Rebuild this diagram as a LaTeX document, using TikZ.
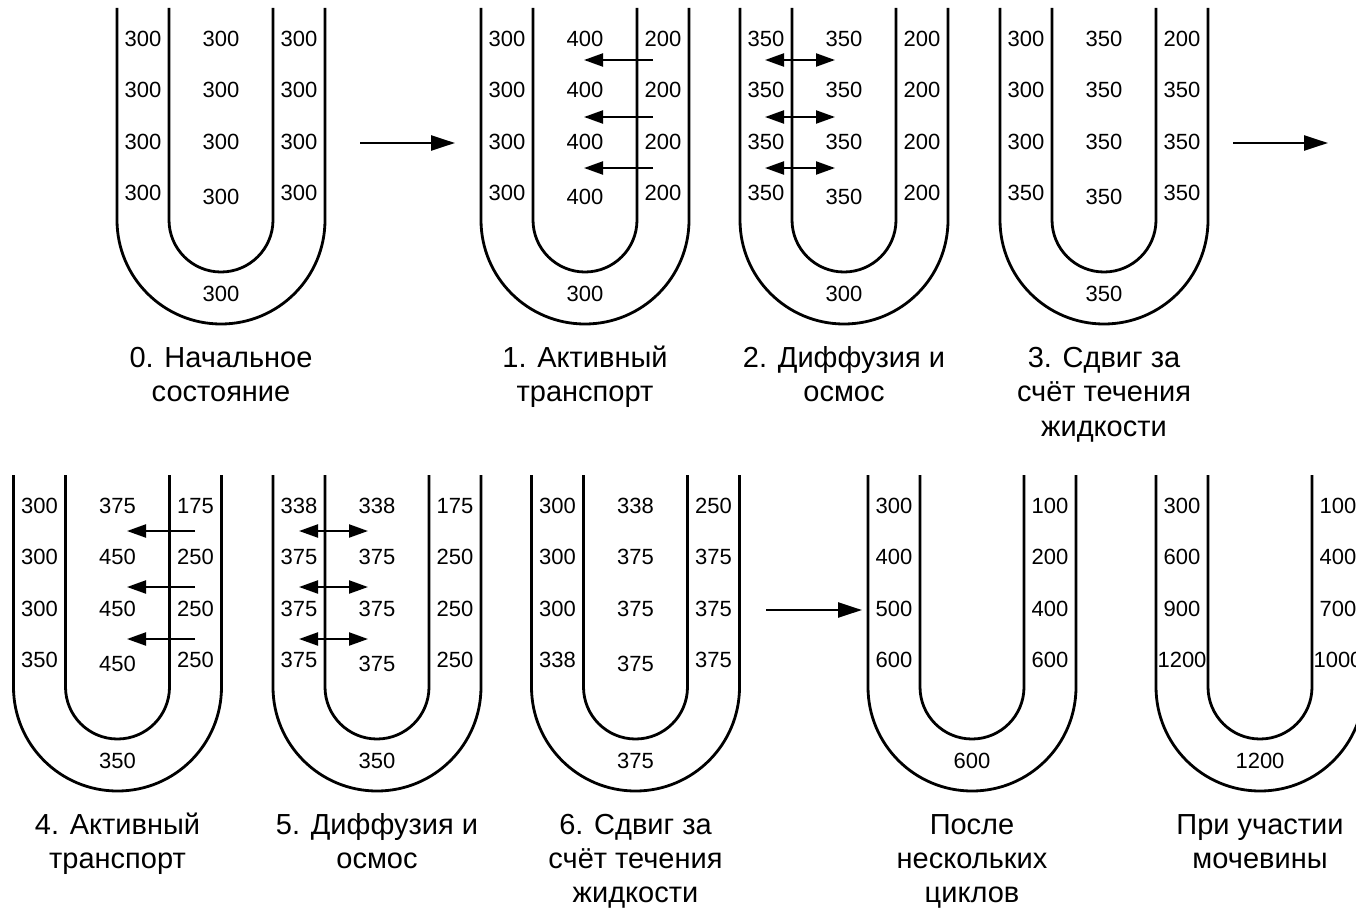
\documentclass[tikz,border=0pt]{standalone}
\usepackage{fontspec}
\setmainfont{Liberation Sans}
\usetikzlibrary{arrows.meta}
\tikzset{
  wall/.style={line width=2.8pt},
  val/.style={inner sep=0pt,font=\fontsize{22}{26}\selectfont},
  captxt/.style={inner sep=0pt,anchor=base,font=\fontsize{29}{34}\selectfont},
  pump/.style={line width=2.2pt,-{Triangle[length=19pt,width=13pt]}},
  diff/.style={line width=2.2pt,{Triangle[length=19pt,width=13pt]}-{Triangle[length=19pt,width=13pt]}},
  stage/.style={line width=2.4pt,-{Triangle[length=24pt,width=15pt]}}
}
% name, cx, yt
\newcommand\Utube[3]{%
  \draw[wall] ({#2-104},{-#3}) -- ({#2-104},{-#3-212}) arc[start angle=180,end angle=360,radius=104pt] -- ({#2+104},{-#3});
  \draw[wall] ({#2-52},{-#3}) -- ({#2-52},{-#3-212}) arc[start angle=180,end angle=360,radius=52pt] -- ({#2+52},{-#3});
}
% name, prefix, x, yt, list
\newcommand\SideCol[5]{%
  \foreach \v [count=\i] in {#5} {\node[val] (#1#2\i) at ({#3},{-#4-31-51.3*(\i-1)}) {\v};}
}
\newcommand\MidCol[4]{%
  \foreach \v [count=\i, evaluate=\i as \dy using {(\i==4)*4}] in {#4} {\node[val] (#1C\i) at ({#2},{-#3-31-51.3*(\i-1)-\dy}) {\v};}
}
% name, cx, yt, bottom value
\newcommand\BotVal[4]{\node[val] (#1B) at ({#2},{-#3-286}) {#4};}
% name, x1, x2, y, style
\newcommand\Flow[5]{%
  \coordinate (#1s) at ({#2},{-#4});
  \coordinate (#1e) at ({#3},{-#4});
  \draw[#5] (#1s) -- (#1e);
}
\begin{document}
\begin{tikzpicture}[x=1pt,y=1pt]
\fill[white] (0,0) rectangle (1356,-907);
\useasboundingbox (0,0) rectangle (1356,-907);
\clip (0,0) rectangle (1356,-907);

% ---------- top row ----------
\Utube{t0}{221}{8}
\SideCol{t0}{L}{143}{8}{300,300,300,300}
\MidCol{t0}{221}{8}{300,300,300,300}
\SideCol{t0}{R}{299}{8}{300,300,300,300}
\BotVal{t0}{221}{8}{300}

\Utube{t1}{585}{8}
\SideCol{t1}{L}{507}{8}{300,300,300,300}
\MidCol{t1}{585}{8}{400,400,400,400}
\SideCol{t1}{R}{663}{8}{200,200,200,200}
\BotVal{t1}{585}{8}{300}
\Flow{t1p1}{653}{584}{60}{pump}
\Flow{t1p2}{653}{584}{117}{pump}
\Flow{t1p3}{653}{584}{168}{pump}

\Utube{t2}{844}{8}
\SideCol{t2}{L}{766}{8}{350,350,350,350}
\MidCol{t2}{844}{8}{350,350,350,350}
\SideCol{t2}{R}{922}{8}{200,200,200,200}
\BotVal{t2}{844}{8}{300}
\Flow{t2d1}{765}{835}{60}{diff}
\Flow{t2d2}{765}{835}{117}{diff}
\Flow{t2d3}{765}{835}{168}{diff}

\Utube{t3}{1104}{8}
\SideCol{t3}{L}{1026}{8}{300,300,300,350}
\MidCol{t3}{1104}{8}{350,350,350,350}
\SideCol{t3}{R}{1182}{8}{200,350,350,350}
\BotVal{t3}{1104}{8}{350}

\Flow{s1}{360}{455}{143}{stage}
\Flow{s2}{1233}{1328}{143}{stage}

\node[captxt] (c0a) at (221,-367) {0. Начальное};
\node[captxt] (c0b) at (221,-401.5) {состояние};
\node[captxt] (c1a) at (585,-367) {1. Активный};
\node[captxt] (c1b) at (585,-401.5) {транспорт};
\node[captxt] (c2a) at (844,-367) {2. Диффузия и};
\node[captxt] (c2b) at (844,-401.5) {осмос};
\node[captxt] (c3a) at (1104,-367) {3. Сдвиг за};
\node[captxt] (c3b) at (1104,-401.5) {счёт течения};
\node[captxt] (c3c) at (1104,-436) {жидкости};

% ---------- bottom row ----------
\Utube{t4}{117.5}{475}
\SideCol{t4}{L}{39.5}{475}{300,300,300,350}
\MidCol{t4}{117.5}{475}{375,450,450,450}
\SideCol{t4}{R}{195.5}{475}{175,250,250,250}
\BotVal{t4}{117.5}{475}{350}
\Flow{t4p1}{195}{127}{531}{pump}
\Flow{t4p2}{195}{127}{587}{pump}
\Flow{t4p3}{195}{127}{639}{pump}

\Utube{t5}{377}{475}
\SideCol{t5}{L}{299}{475}{338,375,375,375}
\MidCol{t5}{377}{475}{338,375,375,375}
\SideCol{t5}{R}{455}{475}{175,250,250,250}
\BotVal{t5}{377}{475}{350}
\Flow{t5d1}{299}{368}{531}{diff}
\Flow{t5d2}{299}{368}{587}{diff}
\Flow{t5d3}{299}{368}{639}{diff}

\Utube{t6}{635.5}{475}
\SideCol{t6}{L}{557.5}{475}{300,300,300,338}
\MidCol{t6}{635.5}{475}{338,375,375,375}
\SideCol{t6}{R}{713.5}{475}{250,375,375,375}
\BotVal{t6}{635.5}{475}{375}

\Flow{s3}{766}{862}{610}{stage}

\Utube{t7}{972}{475}
\SideCol{t7}{L}{894}{475}{300,400,500,600}
\SideCol{t7}{R}{1050}{475}{100,200,400,600}
\BotVal{t7}{972}{475}{600}

\Utube{t8}{1260}{475}
\SideCol{t8}{L}{1182}{475}{300,600,900,1200}
\SideCol{t8}{R}{1338}{475}{100,400,700,1000}
\BotVal{t8}{1260}{475}{1200}

\node[captxt] (c4a) at (117.5,-834) {4. Активный};
\node[captxt] (c4b) at (117.5,-868) {транспорт};
\node[captxt] (c5a) at (377,-834) {5. Диффузия и};
\node[captxt] (c5b) at (377,-868) {осмос};
\node[captxt] (c6a) at (635.5,-834) {6. Сдвиг за};
\node[captxt] (c6b) at (635.5,-868) {счёт течения};
\node[captxt] (c6c) at (635.5,-902) {жидкости};
\node[captxt] (c7a) at (972,-834) {После};
\node[captxt] (c7b) at (972,-868) {нескольких};
\node[captxt] (c7c) at (972,-902) {циклов};
\node[captxt] (c8a) at (1260,-834) {При участии};
\node[captxt] (c8b) at (1260,-868) {мочевины};
\end{tikzpicture}
\end{document}
